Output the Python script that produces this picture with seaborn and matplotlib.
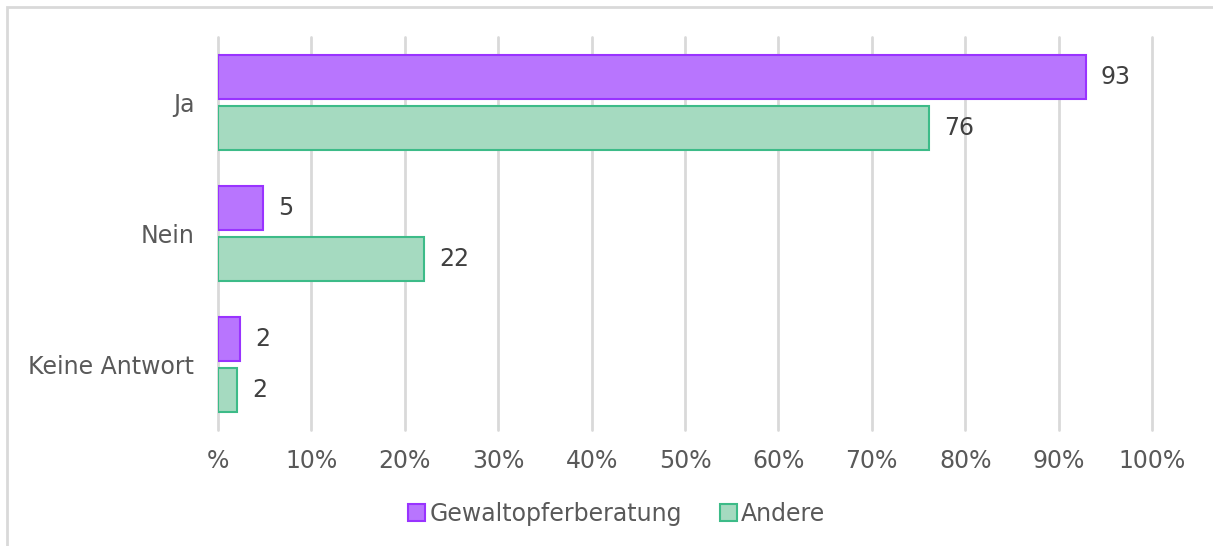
import matplotlib
matplotlib.use("Agg")
import matplotlib.pyplot as plt
import seaborn as sns
import pandas as pd
from matplotlib.patches import Rectangle, Patch

categories = ["Ja", "Nein", "Keine Antwort"]
series_names = ["Gewaltopferberatung", "Andere"]
gewalt = [92.9, 4.8, 2.4]
andere = [76.1, 22.1, 2.0]
labels_gewalt = ["93", "5", "2"]
labels_andere = ["76", "22", "2"]
xtick_values = [0, 10, 20, 30, 40, 50, 60, 70, 80, 90, 100]
xtick_labels = ["%", "10%", "20%", "30%", "40%", "50%", "60%", "70%", "80%", "90%", "100%"]

fills = ["#b875fe", "#a5dac0"]
edges = ["#9933ff", "#3dbb88"]

df = pd.DataFrame({
    "cat": categories * 2,
    "serie": [series_names[0]] * 3 + [series_names[1]] * 3,
    "val": gewalt + andere,
})

sns.set_theme(style="white")
plt.rcParams["font.family"] = ["DejaVu Sans"]

fig = plt.figure(figsize=(12.13, 5.46), dpi=100)
ax = fig.add_axes([218 / 1213, 1 - 430 / 546, (1152 - 218) / 1213, (430 - 37) / 546])

sns.barplot(data=df, y="cat", x="val", hue="serie", orient="h",
            palette=fills, saturation=1, width=0.78, gap=0.14, ax=ax, legend=False,
            order=categories, hue_order=series_names)

for i, cont in enumerate(ax.containers):
    for bar in cont:
        bar.set_edgecolor(edges[i])
        bar.set_linewidth(1.5)
    lab = labels_gewalt if i == 0 else labels_andere
    ax.bar_label(cont, labels=lab, padding=11, fontsize=17, color="#404040")

ax.set_xlim(0, 100)
ax.set_ylim(2.5, -0.5)
ax.set_xticks(xtick_values)
ax.set_xticklabels(xtick_labels, fontsize=17, color="#595959")
ax.tick_params(axis="y", labelsize=17, labelcolor="#595959", length=0, pad=17)
ax.tick_params(axis="x", length=0, pad=14)
ax.set_xlabel("")
ax.set_ylabel("")
ax.xaxis.grid(True, color="#d9d9d9", linewidth=2)
for gl in ax.get_xgridlines():
    gl.set_clip_on(False)
ax.set_axisbelow(True)
for s in ax.spines.values():
    s.set_visible(False)

handles = [Patch(facecolor=fills[i], edgecolor=edges[i], linewidth=1.5, label=series_names[i]) for i in range(2)]
leg = fig.legend(handles=handles, loc="center", bbox_to_anchor=(617 / 1213, 1 - 514 / 546),
                 ncol=2, frameon=False, fontsize=17, handlelength=0.7, handleheight=0.7,
                 handletextpad=0.2, columnspacing=1.6)
for t in leg.get_texts():
    t.set_color("#595959")

fig.patches.append(Rectangle((7 / 1213, -0.1), 1.5, 1.1 - 7 / 546, transform=fig.transFigure,
                             fill=False, edgecolor="#d9d9d9", linewidth=2, zorder=0))

fig.savefig("out.png", dpi=100, facecolor="white")
